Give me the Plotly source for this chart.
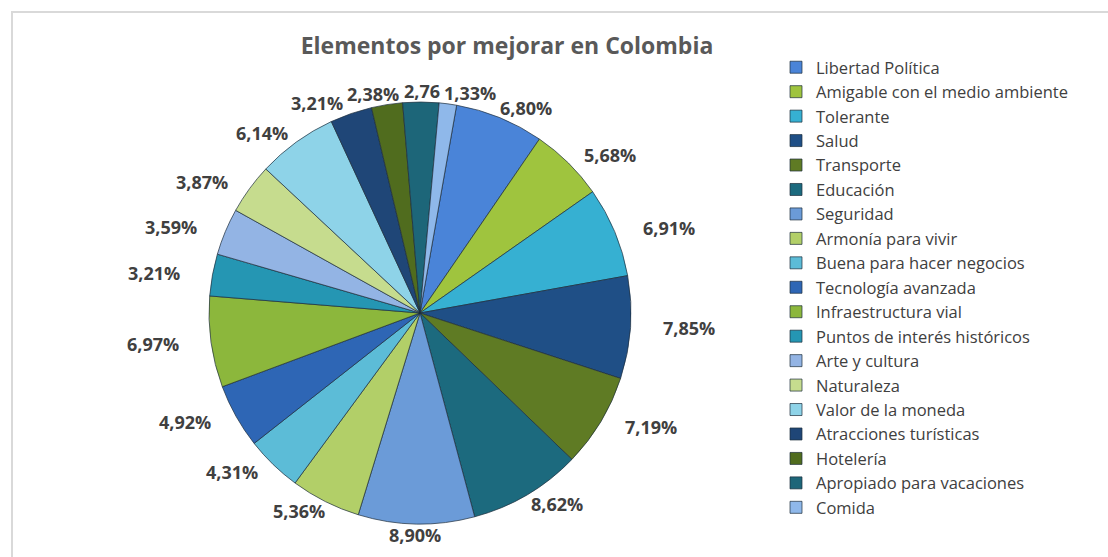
import math
import plotly.graph_objects as go

# Categories (legend order = slice order, clockwise)
categories = [
    "Libertad Política",
    "Amigable con el medio ambiente",
    "Tolerante",
    "Salud",
    "Transporte",
    "Educación",
    "Seguridad",
    "Armonía para vivir",
    "Buena para hacer negocios",
    "Tecnología avanzada",
    "Infraestructura vial",
    "Puntos de interés históricos",
    "Arte y cultura",
    "Naturaleza",
    "Valor de la moneda",
    "Atracciones turísticas",
    "Hotelería",
    "Apropiado para vacaciones",
    "Comida",
]

# Share of responses (%)
shares = [6.80, 5.68, 6.91, 7.85, 7.19, 8.62, 8.90, 5.36, 4.31, 4.92,
          6.97, 3.21, 3.59, 3.87, 6.14, 3.21, 2.38, 2.76, 1.33]

# Slice label text (Spanish decimal comma)
label_text = [f"{v:.2f}".replace(".", ",") + "%" for v in shares]
label_text[categories.index("Apropiado para vacaciones")] = "2,76"

slice_colors = [
    "#4A84D8", "#9FC43E", "#36B0D2", "#1F4F86", "#5F7B24",
    "#1C6A7E", "#6B9BD8", "#B2CF68", "#5CBCD7", "#2E66B5",
    "#8CB73C", "#2596B3", "#93B4E4", "#C6DC8E", "#8ED3E8",
    "#1F4677", "#506C1E", "#1D6679", "#8FB8EA",
]

W, H = 1108, 557
cx, cy, r = 420, 313, 211      # pie centre / radius (px)
start_angle = 10               # first slice starts 10° clockwise from 12 o'clock
lab_rx, lab_ry = 270, 222      # ring on which the value labels sit (px)
LABEL_FONT = dict(family="Open Sans, Lato, sans-serif", size=18,
                  color="#404040", weight="bold")

fig = go.Figure(
    go.Pie(
        labels=categories,
        values=shares,
        text=label_text,
        textinfo="none",
        sort=False,
        direction="clockwise",
        rotation=start_angle,
        marker=dict(colors=slice_colors,
                    line=dict(color="rgba(30,45,60,0.7)", width=1)),
        domain=dict(x=[(cx - r) / W, (cx + r) / W],
                    y=[(H - cy - r) / H, (H - cy + r) / H]),
        hovertemplate="%{label}: %{text}<extra></extra>",
    )
)

# --- value labels: placed around the pie at each slice's mid angle ---
total = sum(shares)
positions = []
acc = 0.0
for v in shares:
    mid = math.radians(start_angle + 360 * (acc + v / 2) / total)
    acc += v
    positions.append([cx + lab_rx * math.sin(mid), cy - lab_ry * math.cos(mid), mid])


def text_width(s, size=18):
    # approximate advance width of bold digits/punctuation
    w = 0
    for ch in s:
        w += {",": 0.27, "%": 0.86}.get(ch, 0.57)
    return w * size


# spread crowded labels along the top edge so they do not overlap
top = sorted([i for i, p in enumerate(positions) if math.cos(p[2]) > 0.85],
             key=lambda i: positions[i][0])
for _ in range(200):
    for a, b in zip(top, top[1:]):
        need = (text_width(label_text[a]) + text_width(label_text[b])) / 2 + 5
        gap = positions[b][0] - positions[a][0]
        if gap < need:
            d = (need - gap) / 2
            positions[a][0] -= d
            positions[b][0] += d

annotations = []
for (px, py, _), t in zip(positions, label_text):
    annotations.append(dict(
        x=px / W, y=1 - py / H, xref="paper", yref="paper",
        text=t, showarrow=False, xanchor="center", yanchor="middle",
        font=LABEL_FONT,
    ))

fig.update_layout(
    width=W,
    height=H,
    margin=dict(l=0, r=0, t=0, b=0),
    paper_bgcolor="white",
    plot_bgcolor="white",
    title=dict(
        text="Elementos por mejorar en Colombia",
        x=507 / W, xanchor="center",
        y=1 - 46 / H, yanchor="middle", yref="container",
        font=dict(family="Open Sans, Lato, sans-serif", size=23,
                  color="#595959", weight="bold"),
    ),
    legend=dict(
        x=776 / W, xanchor="left",
        y=1 - 50 / H, yanchor="top",
        font=dict(family="Open Sans, Lato, sans-serif", size=16.5,
                  color="#404040"),
        bgcolor="rgba(0,0,0,0)",
    ),
    annotations=annotations,
    shapes=[
        # chart frame
        dict(type="rect", xref="paper", yref="paper",
             x0=12 / W, x1=1.02, y0=-0.02, y1=1 - 12 / H,
             line=dict(color="#D9D9D9", width=2), fillcolor="rgba(0,0,0,0)"),
    ],
)

fig.write_html("out.html")
